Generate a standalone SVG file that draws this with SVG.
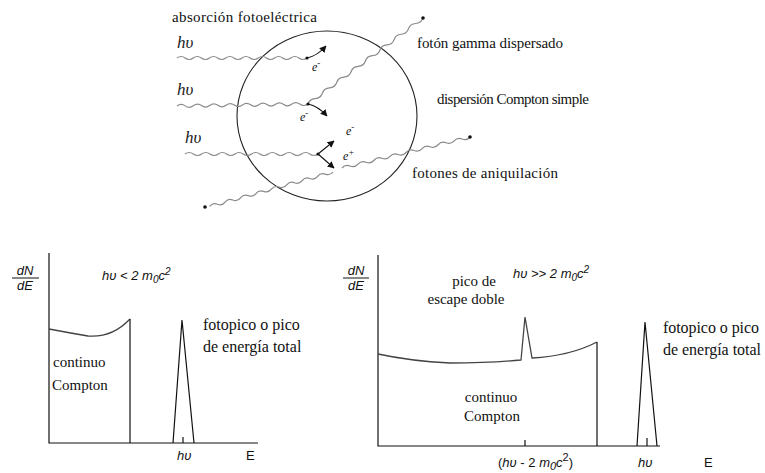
<svg xmlns="http://www.w3.org/2000/svg" width="765" height="473" viewBox="0 0 765 473">
<style>
.serif{font-family:"Liberation Serif","DejaVu Serif",serif;font-size:15px;fill:#111}
.big{font-size:16px}
.hv{font-family:"Liberation Serif","DejaVu Serif",serif;font-style:italic;font-size:17px;fill:#222}
.sans{font-family:"Liberation Sans","DejaVu Sans",sans-serif;font-size:13px;fill:#111}
.it{font-style:italic}
.wave{fill:none;stroke:#8a8a8a;stroke-width:1.2}
.ax{fill:none;stroke:#111;stroke-width:1.2}
.cur{fill:none;stroke:#444;stroke-width:1.3}
.el{fill:none;stroke:#111;stroke-width:1.1}
.e{font-family:"Liberation Serif","DejaVu Serif",serif;font-style:italic;font-size:12px;fill:#111}
</style>
<defs>
<path id="wv" d="M0 0q4 -3 8 0t8 0t8 0t8 0t8 0t8 0t8 0t8 0t8 0t8 0t8 0t8 0t8 0t8 0t8 0t8 0" vector-effect="non-scaling-stroke"/>
<marker id="ah" viewBox="0 0 10 10" refX="9" refY="5" markerWidth="7" markerHeight="7" orient="auto" markerUnits="userSpaceOnUse"><path d="M0 0L10 5L0 10z" fill="#111"/></marker>
</defs>

<g id="detector">
<ellipse cx="327" cy="116" rx="90" ry="85" fill="none" stroke="#222" stroke-width="1.1"/>
</g>

<g id="connectors">
<use href="#wv" class="wave" transform="translate(177,58) scale(1.016,1)"/>
<use href="#wv" class="wave" transform="translate(177,106) rotate(-0.9) scale(1.023,1)"/>
<use href="#wv" class="wave" transform="translate(308,104) rotate(-36.8) scale(1.12,1)"/>
<use href="#wv" class="wave" transform="translate(185,154) scale(1.04,1)"/>
<use href="#wv" class="wave" transform="translate(342,168) rotate(-13.6) scale(1.03,1)"/>
<use href="#wv" class="wave" transform="translate(333,172) rotate(164.4) scale(1.0,1)"/>
<g fill="#111">
<circle cx="307" cy="58" r="1.6"/>
<circle cx="308" cy="104" r="1.6"/>
<circle cx="318" cy="154" r="1.6"/>
<circle cx="423" cy="18" r="1.8"/>
<circle cx="470" cy="137" r="1.8"/>
<circle cx="205" cy="207" r="1.8"/>
</g>
<path class="el" d="M307 58Q317 56 326 46" marker-end="url(#ah)"/>
<path class="el" d="M308 104Q318 106 327 116" marker-end="url(#ah)"/>
<path class="el" d="M318 154L334 141" marker-end="url(#ah)"/>
<path class="el" d="M318 154L334 168" marker-end="url(#ah)"/>
</g>

<g id="labels-top">
<text class="serif" x="172" y="22" textLength="145">absorción fotoeléctrica</text>
<text class="hv" x="177" y="48">hυ</text>
<text class="hv" x="177" y="95">hυ</text>
<text class="hv" x="185" y="143">hυ</text>
<text class="e" x="312" y="71">e<tspan dy="-5" font-size="9">-</tspan></text>
<text class="e" x="300" y="121">e<tspan dy="-5" font-size="9">-</tspan></text>
<text class="e" x="346" y="135">e<tspan dy="-5" font-size="9">-</tspan></text>
<text class="e" x="343" y="160">e<tspan dy="-5" font-size="9">+</tspan></text>
<text class="serif" x="417" y="48" textLength="146">fotón gamma dispersado</text>
<text class="serif" x="437" y="104" textLength="152">dispersión Compton simple</text>
<text class="serif" x="412" y="178" textLength="146">fotones de aniquilación</text>
</g>

<g id="plot-left">
<text class="sans it" x="25" y="275" text-anchor="middle">dN</text>
<line x1="12" y1="278" x2="39" y2="278" stroke="#111" stroke-width="1"/>
<text class="sans it" x="25" y="290" text-anchor="middle">dE</text>
<path class="ax" d="M49 253V443H258"/>
<path class="cur" d="M49 329Q70 333 88 336Q112 338 130 319"/>
<path class="ax" d="M130 319V443"/>
<path class="ax" d="M173 443L182 320L194 443"/>
<path class="ax" d="M183 443V437"/>
<text class="sans it" x="102" y="280">hυ &lt; 2 m<tspan dy="3" font-size="10">0</tspan><tspan dy="-3">c</tspan><tspan dy="-5" font-size="10">2</tspan></text>
<text class="serif big" x="203" y="330">fotopico o pico</text>
<text class="serif big" x="203" y="352">de energía total</text>
<text class="serif" x="53" y="367">continuo</text>
<text class="serif" x="52" y="390">Compton</text>
<text class="sans it" x="177" y="460">hυ</text>
<text class="sans" x="246" y="460">E</text>
</g>

<g id="plot-right">
<text class="sans it" x="356" y="275" text-anchor="middle">dN</text>
<line x1="343" y1="278" x2="369" y2="278" stroke="#111" stroke-width="1"/>
<text class="sans it" x="356" y="290" text-anchor="middle">dE</text>
<path class="ax" d="M378 255V446H660"/>
<path class="cur" d="M378 354Q410 361 450 363Q490 363 521 360L525 317L532 358Q570 356 597 342"/>
<path class="ax" d="M597 342V446"/>
<path class="ax" d="M525 446V440"/>
<path class="ax" d="M637 446L645 322L657 446"/>
<path class="ax" d="M647 446V438"/>
<text class="sans it" x="513" y="278">hυ &gt;&gt; 2 m<tspan dy="3" font-size="10">0</tspan><tspan dy="-3">c</tspan><tspan dy="-5" font-size="10">2</tspan></text>
<text class="serif" x="474" y="286" text-anchor="middle">pico de</text>
<text class="serif" x="466" y="304" text-anchor="middle">escape doble</text>
<text class="serif big" x="663" y="333" textLength="96">fotopico o pico</text>
<text class="serif big" x="663" y="355" textLength="98">de energía total</text>
<text class="serif" x="491" y="402" text-anchor="middle">continuo</text>
<text class="serif" x="492" y="421" text-anchor="middle">Compton</text>
<text class="sans" x="498" y="467" font-size="15">(<tspan class="it">hυ</tspan> - 2 <tspan class="it">m</tspan><tspan class="it" dy="3" font-size="11">0</tspan><tspan class="it" dy="-3">c</tspan><tspan dy="-6" font-size="11">2</tspan><tspan dy="6">)</tspan></text>
<text class="sans it" x="638" y="467" font-size="15">hυ</text>
<text class="sans" x="704" y="467" font-size="15">E</text>
</g>
</svg>
